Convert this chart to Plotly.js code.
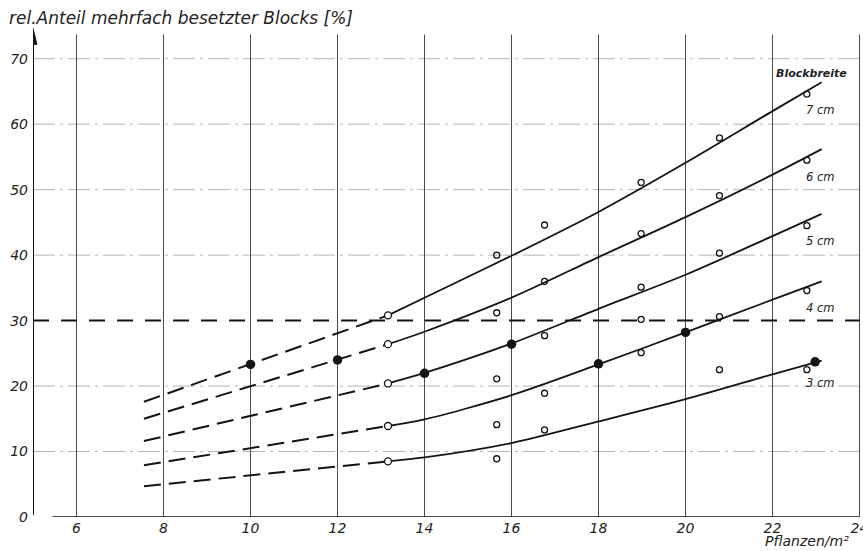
<!DOCTYPE html>
<html>
<head>
<meta charset="utf-8">
<script src="https://cdn.plot.ly/plotly-3.0.1.min.js"></script>
<style>html,body{margin:0;padding:0;background:#fff;}#chart{width:863px;height:551px;}</style>
</head>
<body>
<div id="chart"></div>
<script>
// ---- data ----
const xTicks = [6, 8, 10, 12, 14, 16, 18, 20, 22, 24];
const yTicks = [0, 10, 20, 30, 40, 50, 60, 70];
const widthLabels = ['3 cm', '4 cm', '5 cm', '6 cm', '7 cm'];

// dashed (extrapolated) parts
const dashX = [7.55, 13.16];
const dash3 = [4.7, 8.5];
const dash4 = [7.9, 13.9];
const dash5 = [11.6, 20.4];
const dash6 = [15.0, 26.4];
const dash7 = [17.6, 30.8];

// solid (fitted) parts
const solidX = [13.16, 14, 16, 18, 20, 22, 23.13];
const solid3 = [8.5, 9.1, 11.3, 14.6, 18.0, 21.8, 23.9];
const solid4 = [13.9, 14.9, 18.6, 23.3, 28.2, 33.2, 36.0];
const solid5 = [20.4, 22.0, 26.5, 31.8, 37.0, 42.9, 46.3];
const solid6 = [26.4, 28.3, 33.5, 39.7, 45.8, 52.3, 56.2];
const solid7 = [30.8, 33.5, 39.9, 46.6, 54.1, 62.0, 66.4];

// observed values (open circles)
const obsX = [15.66, 16.76, 18.98, 20.78, 22.79];
const obs3 = [8.9, 13.3, 25.1, 22.5, 22.5];
const obs4 = [14.1, 18.9, 30.2, 30.6, 34.6];
const obs5 = [21.1, 27.7, 35.1, 40.3, 44.5];
const obs6 = [31.2, 36.0, 43.3, 49.1, 54.5];
const obs7 = [40.0, 44.6, 51.1, 57.9, 64.6];

// filled points
const fullX = [10, 12, 14, 16, 18, 20, 22.98];
const fullY = [23.3, 24.0, 21.95, 26.4, 23.4, 28.2, 23.7];

const refLine = 30;
const yTitle = 'rel.Anteil mehrfach besetzter Blocks [%]';
const xTitle = 'Pflanzen/m²';
const legendTitle = 'Blockbreite';

// ---- build ----
const ink = '#141414';
const dashes = [dash3, dash4, dash5, dash6, dash7];
const solids = [solid3, solid4, solid5, solid6, solid7];
const obs = [obs3, obs4, obs5, obs6, obs7];
const traces = [];
dashes.forEach(d => traces.push({x: dashX, y: d, mode: 'lines', line: {color: ink, width: 2, dash: '17px,8px'}, hoverinfo: 'skip'}));
solids.forEach(s => traces.push({x: solidX, y: s, mode: 'lines', line: {color: ink, width: 1.8, shape: 'spline', smoothing: 0.8}, hoverinfo: 'skip'}));
obs.forEach(o => traces.push({x: obsX, y: o, mode: 'markers', marker: {symbol: 'circle-open', size: 6, color: ink, line: {width: 1.3, color: ink}}}));
traces.push({x: dashes.map(() => dashX[1]), y: dashes.map(d => d[1]), mode: 'markers',
  marker: {symbol: 'circle', size: 7, color: '#fff', line: {width: 1.3, color: ink}}});
traces.push({x: fullX, y: fullY, mode: 'markers', marker: {symbol: 'circle', size: 9.5, color: ink}});

const xMin = 5, xMax = 24.08, yMax = 75, gridTop = 73.7;
const shapes = [];
yTicks.filter(v => v !== 0 && v !== refLine).forEach(v => shapes.push({type: 'line', xref: 'x', yref: 'y', x0: xMin, x1: 24, y0: v, y1: v, layer: 'below', line: {color: '#b4b4b4', width: 1, dash: '22px,5px,3px,5px'}}));
xTicks.forEach(v => shapes.push({type: 'line', xref: 'x', yref: 'y', x0: v, x1: v, y0: 0, y1: gridTop, layer: 'below', line: {color: '#4a4a4a', width: 1}}));
shapes.push({type: 'line', xref: 'x', yref: 'y', x0: xMin, x1: 24, y0: refLine, y1: refLine, line: {color: ink, width: 2, dash: '16px,12px'}});
shapes.push({type: 'line', xref: 'x', yref: 'y', x0: 5.45, x1: 24, y0: 0, y1: 0, line: {color: ink, width: 1.6}});
shapes.push({type: 'line', xref: 'x', yref: 'y', x0: xMin, x1: xMin, y0: 0.3, y1: 72.8, line: {color: ink, width: 2}});
shapes.push({type: 'path', xref: 'x', yref: 'y', path: 'M 4.91 72.2 L 5 74.6 L 5.09 72.2 Z', fillcolor: ink, line: {color: ink, width: 1}});

const font = {family: 'DejaVu Sans', size: 14, color: '#222', style: 'italic'};
const annotations = [
  {xref: 'paper', yref: 'paper', x: -0.031, y: 1.0163, xanchor: 'left', yanchor: 'middle', text: yTitle, showarrow: false, font: {family: 'DejaVu Sans', size: 17, color: '#222', style: 'italic'}},
  {xref: 'x', yref: 'paper', x: 21.8, y: -0.0682, xanchor: 'left', yanchor: 'bottom', borderpad: 0, text: xTitle, showarrow: false, font: {family: 'DejaVu Sans', size: 14, color: '#222', style: 'italic'}},
  {xref: 'x', yref: 'y', x: 22.03, y: 67.7, xanchor: 'left', yanchor: 'middle', text: legendTitle, showarrow: false, font: {family: 'DejaVu Sans', size: 11, color: '#222', style: 'italic', weight: 'bold'}}
];
const labelY = [20.4, 32.0, 42.1, 52.0, 62.2];
widthLabels.forEach((t, i) => annotations.push({xref: 'x', yref: 'y', x: 22.73, y: labelY[i], xanchor: 'left', yanchor: 'middle', text: t, showarrow: false, font: {family: 'DejaVu Sans', size: 11.5, color: '#222', style: 'italic'}}));

const layout = {
  width: 863, height: 551,
  margin: {l: 33, r: 0, t: 26, b: 33.5},
  paper_bgcolor: '#fff', plot_bgcolor: '#fff',
  showlegend: false,
  xaxis: {range: [xMin, xMax], tickvals: xTicks, ticktext: xTicks.map(String), showgrid: false, zeroline: false, showline: false, ticks: '', tickfont: font, ticklabelstandoff: 1, ticklabeloverflow: 'allow'},
  yaxis: {range: [0, yMax], tickvals: yTicks, ticktext: yTicks.map(String), showgrid: false, zeroline: false, showline: false, ticks: '', tickfont: font, ticklabelstandoff: 4},
  shapes: shapes,
  annotations: annotations
};
Plotly.newPlot('chart', traces, layout, {staticPlot: true});
</script>
</body>
</html>
